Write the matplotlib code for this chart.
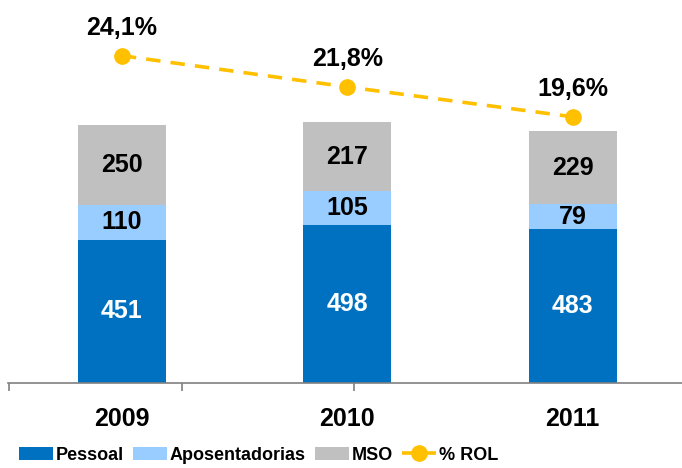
import matplotlib
matplotlib.use("Agg")
import matplotlib.pyplot as plt
import matplotlib.ticker as ticker
import numpy as np

years = ["2009", "2010", "2011"]
pessoal = [451, 498, 483]
aposentadorias = [110, 105, 79]
mso = [250, 217, 229]
rol_pct = [24.1, 21.8, 19.6]
rol_labels = ["24,1%", "21,8%", "19,6%"]

c_pessoal = "#0070C0"
c_apos = "#99CCFF"
c_mso = "#C0C0C0"
c_line = "#FFC000"

plt.rcParams["font.family"] = ["Liberation Sans", "DejaVu Sans"]

fig = plt.figure(figsize=(6.82, 4.68), dpi=100)
ax = fig.add_axes([8 / 682, (468 - 383) / 468, 674 / 682, 383 / 468])

x = np.arange(len(years))
w = 0.39
bottom2 = np.array(pessoal)
bottom3 = bottom2 + np.array(aposentadorias)

b1 = ax.bar(x, pessoal, w, color=c_pessoal, label="Pessoal")
b2 = ax.bar(x, aposentadorias, w, bottom=bottom2, color=c_apos, label="Aposentadorias")
b3 = ax.bar(x, mso, w, bottom=bottom3, color=c_mso, label="MSO")

# Values inside the segments
for i in range(len(years)):
    ax.text(x[i], pessoal[i] / 2, str(pessoal[i]), ha="center", va="center",
            color="white", fontsize=18, fontweight="bold")
    ax.text(x[i], bottom2[i] + aposentadorias[i] / 2, str(aposentadorias[i]),
            ha="center", va="center", color="black", fontsize=18, fontweight="bold")
    ax.text(x[i], bottom3[i] + mso[i] / 2, str(mso[i]), ha="center", va="center",
            color="black", fontsize=18, fontweight="bold")

ax.set_xlim(-0.505, 2.485)
ax.set_ylim(0, 1204)
ax.set_yticks([])
for s in ["left", "top", "right"]:
    ax.spines[s].set_visible(False)
ax.spines["bottom"].set_color("#808080")
ax.spines["bottom"].set_linewidth(1.2)

ax.set_xticks(x)
ax.set_xticklabels(years, fontsize=18, fontweight="bold")
ax.tick_params(axis="x", which="major", length=0, pad=17)
ax.xaxis.set_minor_locator(ticker.FixedLocator([-0.5, 0.265, 1.03]))
ax.tick_params(axis="x", which="minor", length=6, color="#808080", width=1.2)

# % ROL on secondary axis
ax2 = ax.twinx()
ax2.set_ylim(0, 28.2)
ax2.axis("off")
ln, = ax2.plot(x, rol_pct, color=c_line, linestyle=(0, (4, 2.8)), linewidth=2.6,
               marker="o", markersize=11, label="% ROL")
for i in range(len(years)):
    ax2.annotate(rol_labels[i], (x[i], rol_pct[i]), xytext=(0, 20),
                 textcoords="offset points", ha="center", va="center",
                 fontsize=18, fontweight="bold")

handles = [b1, b2, b3, ln]
labels = ["Pessoal", "Aposentadorias", "MSO", "% ROL"]
fig.legend(handles, labels, loc="center", bbox_to_anchor=(0.379, 13 / 468),
           ncol=4, frameon=False,
           prop={"weight": "bold", "size": 13},
           handlelength=1.9, handleheight=0.75, columnspacing=0.5, handletextpad=0.15)

fig.savefig("out.png", dpi=100)
